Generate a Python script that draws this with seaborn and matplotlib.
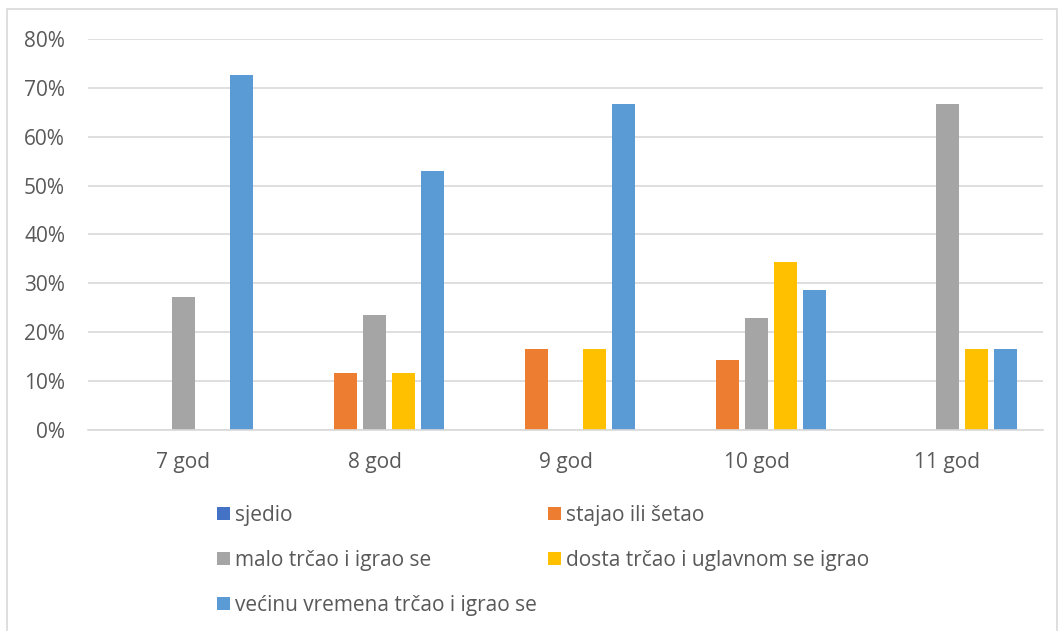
import numpy as np
import pandas as pd
import matplotlib.pyplot as plt
import seaborn as sns
from matplotlib.patches import Rectangle, Patch
from matplotlib.ticker import PercentFormatter

ages       = ['7 god', '8 god', '9 god', '10 god', '11 god']
categories = ['sjedio', 'stajao ili šetao', 'malo trčao i igrao se',
              'dosta trčao i uglavnom se igrao', 'većinu vremena trčao i igrao se']
sjedio     = [0, 0, 0, 0, 0]
stajao     = [0, 11.76, 16.67, 14.29, 0]
malo       = [27.27, 23.53, 0, 22.86, 66.67]
dosta      = [0, 11.76, 16.67, 34.29, 16.67]
vecinu     = [72.73, 52.94, 66.67, 28.57, 16.67]
colors     = ['#4472C4', '#ED7D31', '#A5A5A5', '#FFC000', '#5B9BD5']

rows = []
for cat, vals in zip(categories, [sjedio, stajao, malo, dosta, vecinu]):
    for age, v in zip(ages, vals):
        rows.append({'age': age, 'cat': cat, 'val': v})
df = pd.DataFrame(rows)

sns.set_style('white')
plt.rcParams['font.family'] = ['Open Sans', 'DejaVu Sans']
text_col = '#595959'
fs = 15

fig = plt.figure(figsize=(10.62, 6.31), dpi=100)
ax = fig.add_axes([88/1062, 1 - 430/631, (1043-88)/1062, (430-39)/631])

sns.barplot(data=df, x='age', y='val', hue='cat', hue_order=categories,
            palette=colors, width=0.76, gap=0.2, ax=ax, legend=False,
            saturation=1, edgecolor='none')

ax.set_ylim(0, 80)
ax.set_yticks(np.arange(0, 81, 10))
ax.yaxis.set_major_formatter(PercentFormatter(decimals=0))
ax.grid(axis='y', color='#D9D9D9', linewidth=1.2)
ax.set_axisbelow(True)
for s in ['top', 'right', 'left']:
    ax.spines[s].set_visible(False)
ax.spines['bottom'].set_color('#D9D9D9')
ax.spines['bottom'].set_linewidth(1.2)
ax.set_xlabel('')
ax.set_ylabel('')
ax.tick_params(axis='both', length=0, labelsize=fs, colors=text_col)
ax.tick_params(axis='x', pad=16)
ax.tick_params(axis='y', pad=16.5)

# Excel-style legend: two columns, the long last entry runs past column 2
def add_legend(idx, x):
    handles = [Patch(facecolor=colors[i], edgecolor='none') for i in idx]
    labels = [categories[i] for i in idx]
    leg = fig.legend(handles, labels, loc='upper left',
                     bbox_to_anchor=(x/1062, 1 - 505/631), frameon=False,
                     fontsize=fs, handlelength=0.63, handleheight=0.63,
                     handletextpad=0.25, labelspacing=1.15,
                     borderpad=0, borderaxespad=0)
    for t in leg.get_texts():
        t.set_color(text_col)
    return leg

add_legend([0, 2, 4], 217)
add_legend([1, 3], 548)

fig.patches.append(Rectangle((7/1062, -0.01), 1050/1062, 1 - 9/631 + 0.01,
                             transform=fig.transFigure, fill=False,
                             edgecolor='#D9D9D9', linewidth=1.2))

fig.savefig('out.png', dpi=100)
